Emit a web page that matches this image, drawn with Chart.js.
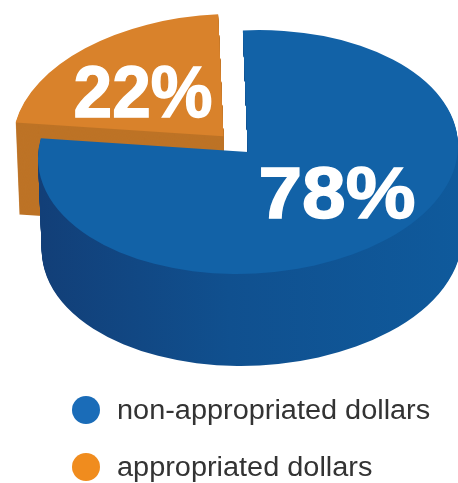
<!DOCTYPE html>
<html>
<head>
<meta charset="utf-8">
<title>Funding sources</title>
<script src="https://cdn.jsdelivr.net/npm/chart.js@4"></script>
<style>
  html, body { margin: 0; padding: 0; background: #fff; }
  body { width: 458px; height: 483px; position: relative; overflow: hidden; }
  #chart1 { position: absolute; left: 0; top: 0; }
  .legend-row { position: absolute; left: 72px; height: 28px; display: flex; align-items: center; }
  .legend-dot { width: 28px; height: 28px; border-radius: 50%; margin-right: 17px; flex: none; }
  .legend-text { font: 27px "Liberation Sans", Arial, sans-serif; color: #333; white-space: nowrap;
    transform: scaleX(1.07); transform-origin: left center; }
</style>
</head>
<body>
<canvas id="chart1" width="458" height="483"></canvas>
<div id="legend"></div>
<script>
// orange goes first so the blue slice paints over its wall
const categories = ["appropriated dollars", "non-appropriated dollars"];
const shares = [22, 78];
const shareLabels = ["22%", "78%"];
const topColors = ["#d9822b", "#1262a7"];
const legendColors = ["#f08c1e", "#1a6cb8"];

const SQUASH = 0.58;
const SKEW = -0.03;
const DEPTH = 92;
const LEAN = 0.041;

function tilt(ctx, arc) {
  ctx.translate(arc.x, arc.y);
  ctx.transform(1, SKEW, 0, SQUASH, 0, 0);
  ctx.translate(-arc.x, -arc.y);
}

function wallColors(ctx) {
  const blueWall = ctx.createLinearGradient(40, 0, 458, 0);
  blueWall.addColorStop(0, "#123f78");
  blueWall.addColorStop(0.45, "#10508f");
  blueWall.addColorStop(1, "#0f5a9c");
  return ["#bd7326", blueWall];
}

function drawShare(ctx, text, size, stretch, x, y) {
  ctx.save();
  ctx.translate(x, y);
  ctx.scale(stretch, 1);
  ctx.font = "bold " + size + 'px "Liberation Sans", Arial, sans-serif';
  ctx.fillText(text, 0, 0);
  ctx.strokeText(text, 0, 0);
  ctx.restore();
}

const pie3d = {
  id: "pie3d",
  beforeDatasetsDraw(chart) {
    const ctx = chart.ctx;
    const arcs = chart.getDatasetMeta(0).data;
    const walls = wallColors(ctx);
    // walls are the same arcs stamped again and again going downward
    arcs.forEach(function (arc, i) {
      const opts = arc.options;
      arc.options = Object.assign({}, opts, { backgroundColor: walls[i] });
      for (let d = DEPTH; d > 0; d--) {
        ctx.save();
        ctx.translate(d * LEAN, d);
        tilt(ctx, arc);
        arc.draw(ctx);
        ctx.restore();
      }
      arc.options = opts;
    });
    ctx.save();
    tilt(ctx, arcs[0]);
  },
  afterDatasetsDraw(chart) {
    const ctx = chart.ctx;
    ctx.restore();
    ctx.fillStyle = "#fff";
    ctx.strokeStyle = "#fff";
    ctx.lineWidth = 1.5;
    ctx.textAlign = "center";
    ctx.textBaseline = "alphabetic";
    drawShare(ctx, shareLabels[0], 73, 0.95, 143, 117);
    drawShare(ctx, shareLabels[1], 72, 1.09, 337, 218);
  },
};

new Chart(document.getElementById("chart1").getContext("2d"), {
  type: "pie",
  data: {
    labels: categories,
    datasets: [
      {
        data: shares,
        backgroundColor: topColors,
        borderWidth: 0,
        offset: [150, 0],
        clip: false,
      },
    ],
  },
  options: {
    responsive: false,
    animation: false,
    rotation: 279.4,
    radius: 210,
    layout: { padding: { left: 38, bottom: 179 } },
    plugins: { legend: { display: false }, tooltip: { enabled: false } },
  },
  plugins: [pie3d],
});

// legend lists the blue slice first
const legend = document.getElementById("legend");
[1, 0].forEach(function (i, row) {
  const div = document.createElement("div");
  div.className = "legend-row";
  div.style.top = 396 + row * 57 + "px";
  div.innerHTML = '<span class="legend-dot" style="background:' + legendColors[i] + '"></span>' +
    '<span class="legend-text">' + categories[i] + "</span>";
  legend.appendChild(div);
});
</script>
</body>
</html>
